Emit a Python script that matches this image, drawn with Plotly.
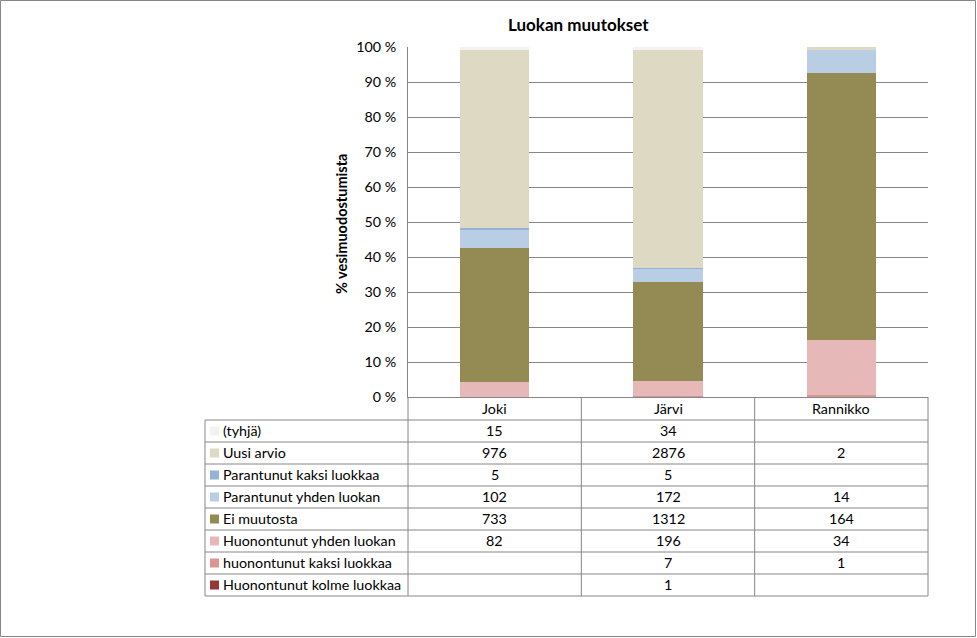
import plotly.graph_objects as go

categories = ["Joki", "Järvi", "Rannikko"]

# series listed top to bottom as in the data table
series_names = ["(tyhjä)", "Uusi arvio", "Parantunut kaksi luokkaa", "Parantunut yhden luokan",
                "Ei muutosta", "Huonontunut yhden luokan", "huonontunut kaksi luokkaa",
                "Huonontunut kolme luokkaa"]
tyhja = [15, 34, None]
uusi_arvio = [976, 2876, 2]
parantunut_kaksi = [5, 5, None]
parantunut_yhden = [102, 172, 14]
ei_muutosta = [733, 1312, 164]
huonontunut_yhden = [82, 196, 34]
huonontunut_kaksi = [None, 7, 1]
huonontunut_kolme = [None, 1, None]
series_values = [tyhja, uusi_arvio, parantunut_kaksi, parantunut_yhden,
                 ei_muutosta, huonontunut_yhden, huonontunut_kaksi, huonontunut_kolme]
colors = ["#F2F2F2", "#DDD9C3", "#95B3D7", "#B9CDE5",
          "#948A54", "#E6B9B8", "#D99694", "#953735"]
y_ticks = list(range(0, 101, 10))
y_ticktext = [f"{t} %" for t in y_ticks]

FONT = "Lato"
GRID = "#868686"

# pixel geometry of the chart
W, H = 977, 638
PL, PR, PT, PB = 408, 928, 47, 397
pw, ph = PR - PL, PB - PT

def px(x):
    return (x - PL) / pw

def py_(y):
    return (PB - y) / ph

fig = go.Figure()
# stack from bottom: reverse of table order
for name, vals, col in reversed(list(zip(series_names, series_values, colors))):
    fig.add_trace(go.Bar(x=categories, y=[v if v is not None else 0 for v in vals],
                         name=name, marker=dict(color=col, line=dict(width=0))))

shapes = []
annotations = []

# outer frame
shapes.append(dict(type="rect", xref="paper", yref="paper", x0=px(0.5), x1=px(W - 1.5),
                   y0=py_(H - 1.5), y1=py_(0.5), line=dict(color="#868686", width=1)))

# table geometry
header_top, header_bot = PB, 420
row_h = 22
n_rows = len(series_names)
table_bot = header_bot + row_h * n_rows
label_left = 205
col_edges = [PL + i * pw / 3 for i in range(4)]
line = dict(color=GRID, width=1)

# vertical lines
for xe in col_edges:
    shapes.append(dict(type="line", xref="paper", yref="paper", x0=px(xe), x1=px(xe),
                       y0=py_(header_top), y1=py_(table_bot), line=line))
shapes.append(dict(type="line", xref="paper", yref="paper", x0=px(label_left), x1=px(label_left),
                   y0=py_(header_bot), y1=py_(table_bot), line=line))
# horizontal lines
for r in range(n_rows + 1):
    yy = header_bot + r * row_h
    shapes.append(dict(type="line", xref="paper", yref="paper", x0=px(label_left), x1=px(PR),
                       y0=py_(yy), y1=py_(yy), line=line))

txt = dict(size=14.3, color="#000000")

# header labels
for c in categories:
    annotations.append(dict(x=c, xref="x", y=py_((header_top + header_bot) / 2), yref="paper",
                            text=c, showarrow=False, xanchor="center", yanchor="middle", font=txt))

# rows: legend key, label, values
for r, (name, vals, col) in enumerate(zip(series_names, series_values, colors)):
    yc = header_bot + r * row_h + row_h / 2
    shapes.append(dict(type="rect", xref="paper", yref="paper", x0=px(210), x1=px(219),
                       y0=py_(yc + 4.5), y1=py_(yc - 4.5), fillcolor=col, line=dict(width=0)))
    annotations.append(dict(x=px(221), xref="paper", y=py_(yc - 0.5), yref="paper", text=name,
                            xanchor="left", yanchor="middle", showarrow=False, font=txt))
    for c, v in zip(categories, vals):
        if v is None:
            continue
        annotations.append(dict(x=c, xref="x", y=py_(yc - 0.5), yref="paper", text=str(v),
                                xanchor="center", yanchor="middle", showarrow=False, font=txt))

# title and axis title
annotations.append(dict(x=px(578), xref="paper", y=py_(25), yref="paper", text="<b>Luokan muutokset</b>",
                        xanchor="center", yanchor="middle", showarrow=False,
                        font=dict(size=17, color="#000000")))
annotations.append(dict(x=px(341), xref="paper", y=py_(224), yref="paper", text="<b>% vesimuodostumista</b>",
                        xanchor="center", yanchor="middle", textangle=-90, showarrow=False,
                        font=dict(size=14.5, color="#000000")))

fig.update_layout(
    width=W, height=H,
    margin=dict(l=PL, r=W - PR, t=PT, b=H - PB, pad=0),
    barmode="stack", barnorm="percent", bargap=0.6,
    showlegend=False,
    plot_bgcolor="white", paper_bgcolor="white",
    font=dict(family=FONT, size=14, color="#000000"),
    shapes=shapes, annotations=annotations,
)
fig.update_xaxes(showticklabels=False, showgrid=False, showline=True, linecolor=GRID,
                 range=[-0.5, 2.5], fixedrange=True)
fig.update_yaxes(range=[0, 100], tickmode="array", tickvals=y_ticks, ticktext=y_ticktext,
                 showgrid=True, gridcolor=GRID, showline=True, linecolor=GRID, zeroline=False,
                 ticks="", ticklabelstandoff=8, tickfont=dict(size=14.3))

fig.write_html("out.html", config={"displayModeBar": False},
               post_script="document.body.style.margin='0';")
